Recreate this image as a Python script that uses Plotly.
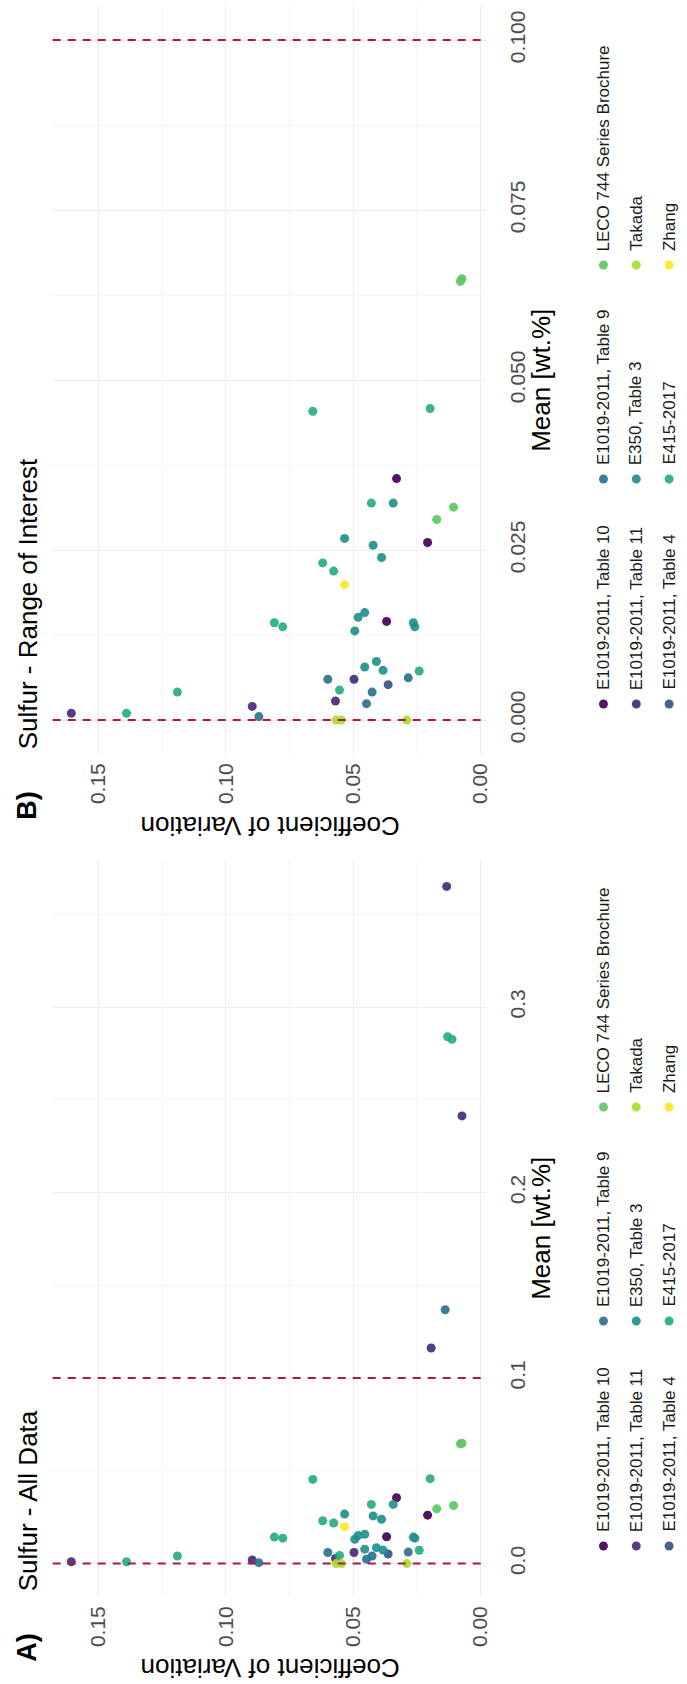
import plotly.graph_objects as go

W, H = 687, 1684

sources = ["E1019-2011, Table 10", "E1019-2011, Table 11", "E1019-2011, Table 4",
           "E1019-2011, Table 9", "E350, Table 3", "E415-2017",
           "LECO 744 Series Brochure", "Takada", "Zhang"]
colors = ["#440154", "#472D7B", "#3B528B", "#2C728E", "#21908C",
          "#27AD81", "#5DC863", "#AADC32", "#FDE725"]

# Mean [wt.%] and Coefficient of Variation per source
mean_t10 = [0.0355, 0.0261, 0.0145]
cov_t10 = [0.0329, 0.0207, 0.0368]
mean_t11 = [0.001, 0.002, 0.0028, 0.006, 0.1162, 0.2413, 0.365]
cov_t11 = [0.1607, 0.0896, 0.0569, 0.0496, 0.0193, 0.0072, 0.0132]
mean_t4 = [0.0052]
cov_t4 = [0.0362]
mean_t9 = [0.0005, 0.006, 0.0041, 0.0024, 0.0062, 0.1368]
cov_t9 = [0.087, 0.0599, 0.0425, 0.0447, 0.0283, 0.0138]
mean_e350 = [0.0319, 0.0267, 0.0257, 0.0239, 0.0151, 0.0158, 0.0131, 0.0143, 0.0137, 0.0078, 0.0086, 0.0073]
cov_e350 = [0.0342, 0.0533, 0.0421, 0.0388, 0.048, 0.0454, 0.0493, 0.0263, 0.0257, 0.0454, 0.0408, 0.0382]
mean_e415 = [0.001, 0.0041, 0.0143, 0.0137, 0.0454, 0.0458, 0.0231, 0.0219, 0.0044, 0.0072, 0.0319, 0.284, 0.2826]
cov_e415 = [0.139, 0.119, 0.0809, 0.0776, 0.0658, 0.0197, 0.0619, 0.0576, 0.0553, 0.024, 0.0428, 0.0128, 0.0111]
mean_leco = [0.0649, 0.0645, 0.0313, 0.0295]
cov_leco = [0.0072, 0.0078, 0.0105, 0.0171]
mean_takada = [0.0, 0.0, 0.0]
cov_takada = [0.0566, 0.0546, 0.0289]
mean_zhang = [0.0199]
cov_zhang = [0.0533]

means = [mean_t10, mean_t11, mean_t4, mean_t9, mean_e350, mean_e415, mean_leco, mean_takada, mean_zhang]
covs = [cov_t10, cov_t11, cov_t4, cov_t9, cov_e350, cov_e415, cov_leco, cov_takada, cov_zhang]

range_limits = [0.0, 0.1]
roi_max = 0.1

cov_ticks = [0.0, 0.05, 0.10, 0.15]
cov_ticktext = ["0.00", "0.05", "0.10", "0.15"]
cov_minor = [0.025, 0.075, 0.125]
meanA_ticks = [0.0, 0.1, 0.2, 0.3]
meanA_ticktext = ["0.0", "0.1", "0.2", "0.3"]
meanA_minor = [0.05, 0.15, 0.25, 0.35]
meanB_ticks = [0.0, 0.025, 0.05, 0.075, 0.1]
meanB_ticktext = ["0.000", "0.025", "0.050", "0.075", "0.100"]
meanB_minor = [0.0125, 0.0375, 0.0625, 0.0875]


def px(x):
    return x / W


def py(y):
    return 1 - y / H


FONT = "Liberation Sans, Arial, sans-serif"
fig = go.Figure()

for i, s in enumerate(sources):
    fig.add_trace(go.Scatter(x=covs[i], y=means[i], mode="markers", name=s,
                             marker=dict(color=colors[i], size=9, opacity=0.92),
                             xaxis="x", yaxis="y", showlegend=False))
    bx = [c for c, m in zip(covs[i], means[i]) if m <= roi_max]
    by = [m for m in means[i] if m <= roi_max]
    fig.add_trace(go.Scatter(x=bx, y=by, mode="markers", name=s,
                             marker=dict(color=colors[i], size=9, opacity=0.92),
                             xaxis="x2", yaxis="y2", showlegend=False))

shapes = []
for xa, ya in [("x", "y"), ("x2", "y2")]:
    for v in range_limits:
        shapes.append(dict(type="line", xref=xa + " domain", x0=0, x1=1, yref=ya, y0=v, y1=v,
                           line=dict(color="#B0173B", width=2, dash="8px,7px"), layer="above"))

grid = "#EDEDED"
mgrid = "#F5F5F5"
tickfont = dict(family=FONT, size=21, color="#4D4D4D")


def xaxis_cfg():
    return dict(range=[0.168, -0.0027], domain=[px(53), px(490)], tickvals=cov_ticks,
                ticktext=cov_ticktext, tickangle=-90, showgrid=True, gridcolor=grid, gridwidth=1,
                zeroline=False, showline=False, ticks="", tickfont=tickfont,
                minor=dict(tickvals=cov_minor, showgrid=True, gridcolor=mgrid, gridwidth=0.6),
                ticklabelstandoff=4)


fig.update_layout(
    xaxis=dict(xaxis_cfg(), anchor="y"),
    yaxis=dict(range=[-0.018, 0.380], domain=[py(1597), py(858.6)], side="right", anchor="x",
               tickvals=meanA_ticks, ticktext=meanA_ticktext, tickangle=-90, showgrid=True,
               gridcolor=grid, zeroline=False, showline=False, ticks="", tickfont=tickfont,
               minor=dict(tickvals=meanA_minor, showgrid=True, gridcolor=mgrid, gridwidth=0.6),
               ticklabelstandoff=16),
    xaxis2=dict(xaxis_cfg(), anchor="y2"),
    yaxis2=dict(range=[-0.005, 0.105], domain=[py(754), py(6)], side="right", anchor="x2",
                tickvals=meanB_ticks, ticktext=meanB_ticktext, tickangle=-90, showgrid=True,
                gridcolor=grid, zeroline=False, showline=False, ticks="", tickfont=tickfont,
                minor=dict(tickvals=meanB_minor, showgrid=True, gridcolor=mgrid, gridwidth=0.6),
                ticklabelstandoff=16),
)

ann = []
legend_cols_x = [607, 640, 673]
legend_rows_y = [704, 479, 265]
for off, tag, title in [(842, "A)", "Sulfur - All Data"), (0, "B)", "Sulfur - Range of Interest")]:
    ann.append(dict(text="<b>%s</b>" % tag, x=px(27), y=py(805 + off), xref="paper", yref="paper",
                    textangle=-90, showarrow=False, xanchor="center", yanchor="middle",
                    font=dict(family=FONT, size=27, color="black")))
    ann.append(dict(text=title, x=px(28), y=py(751 + off), xref="paper", yref="paper",
                    textangle=-90, showarrow=False, xanchor="center", yanchor="bottom",
                    font=dict(family=FONT, size=26, color="black")))
    ann.append(dict(text="Coefficient of Variation", x=px(272), y=py(826 + off), xref="paper",
                    yref="paper", textangle=180, showarrow=False, xanchor="center",
                    yanchor="middle", font=dict(family=FONT, size=26, color="black")))
    ann.append(dict(text="Mean [wt.%]", x=px(544), y=py(380 + off + (0 if off == 0 else 6)),
                    xref="paper", yref="paper", textangle=-90, showarrow=False,
                    xanchor="center", yanchor="middle", font=dict(family=FONT, size=26, color="black")))
    for k, s in enumerate(sources):
        col = k // 3
        row = k % 3
        cx = legend_cols_x[row]
        cy = legend_rows_y[col] + off
        r = 4.5
        shapes.append(dict(type="circle", xref="paper", yref="paper",
                           x0=px(cx - r), x1=px(cx + r), y0=py(cy + r), y1=py(cy - r),
                           fillcolor=colors[k], line=dict(width=0), opacity=0.92))
        ann.append(dict(text=s, x=px(cx), y=py(cy - 12), xref="paper", yref="paper",
                        textangle=-90, showarrow=False, xanchor="center", yanchor="bottom",
                        font=dict(family=FONT, size=17, color="#1A1A1A")))

fig.update_layout(width=W, height=H, margin=dict(l=0, r=0, t=0, b=0),
                  paper_bgcolor="white", plot_bgcolor="white",
                  shapes=shapes, annotations=ann, showlegend=False,
                  font=dict(family=FONT))

fig.write_html("out.html")
